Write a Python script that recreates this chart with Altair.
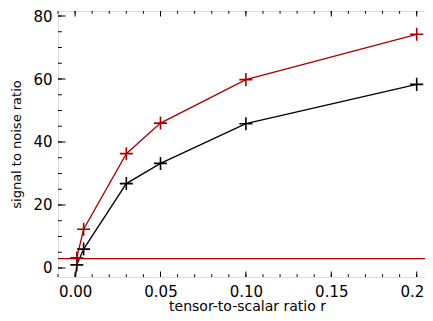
import altair as alt
import pandas as pd

# data
r_vals = [0.001, 0.005, 0.03, 0.05, 0.10, 0.20]
snr_black = [1.0, 6.0, 26.8, 33.2, 45.8, 58.3]
snr_red = [3.2, 12.3, 36.3, 46.0, 59.8, 74.2]
# black curve continues below the visible y range towards r = 0
black_lead_r = [0.0]
black_lead_snr = [-4.0]
threshold = 3.0

x_major = [0.0, 0.05, 0.10, 0.15, 0.20]
x_minor = [round(i * 0.01, 2) for i in range(-1, 22)]
y_major = [0, 20, 40, 60, 80]
y_minor = list(range(0, 81, 5))

W, H = 378, 266
RED = "#a80000"
FONT = "DejaVu Sans"

pts = pd.DataFrame(
    {"r": r_vals * 2, "snr": snr_black + snr_red,
     "series": ["black"] * len(r_vals) + ["red"] * len(r_vals)}
)
line_df = pd.DataFrame(
    {"r": black_lead_r + r_vals + r_vals,
     "snr": black_lead_snr + snr_black + snr_red,
     "series": ["black"] * (len(r_vals) + 1) + ["red"] * len(r_vals)}
)

xs = alt.Scale(domain=[-0.01, 0.2113], nice=False, zero=False)
ys = alt.Scale(domain=[-2.86, 81.59], nice=False, zero=False)
cs = alt.Scale(domain=["black", "red"], range=["black", RED])

xaxis = alt.Axis(title="tensor-to-scalar ratio r", values=x_major, format=".2f",
                 ticks=False, domain=False, grid=False, labelFontSize=15,
                 labelFont=FONT, labelPadding=7, titleFont=FONT, titleFontSize=14,
                 titleFontWeight="normal", titleBaseline="alphabetic", titleY=33,
                 labelColor="black", titleColor="black")
yaxis = alt.Axis(title="signal to noise ratio", values=y_major, format="d",
                 ticks=False, domain=False, grid=False, labelFontSize=15,
                 labelFont=FONT, labelPadding=6, titleFont=FONT, titleFontSize=13,
                 titleFontWeight="normal", titlePadding=9, labelColor="black", titleColor="black")

lines = alt.Chart(line_df).mark_line(strokeWidth=1.3, clip=True).encode(
    x=alt.X("r:Q", scale=xs, axis=xaxis),
    y=alt.Y("snr:Q", scale=ys, axis=yaxis),
    color=alt.Color("series:N", scale=cs, legend=None),
    detail="series:N",
)
points = alt.Chart(pts).mark_point(shape="M-1,0L1,0M0,-1L0,1", filled=False, size=170,
                                   strokeWidth=1.6, opacity=1).encode(
    x=alt.X("r:Q", scale=xs),
    y=alt.Y("snr:Q", scale=ys),
    color=alt.Color("series:N", scale=cs, legend=None),
)
hline = alt.Chart(pd.DataFrame({"t": [threshold]})).mark_rule(color=RED, strokeWidth=1.3).encode(
    y=alt.Y("t:Q", scale=ys)
)

def xticks(vals, L):
    d = alt.Chart(pd.DataFrame({"v": vals}))
    bot = d.mark_rule(color="black", strokeWidth=1).encode(
        x=alt.X("v:Q", scale=xs), y=alt.value(H), y2=alt.value(H - L))
    top = d.mark_rule(color="black", strokeWidth=1).encode(
        x=alt.X("v:Q", scale=xs), y=alt.value(0), y2=alt.value(L))
    return [bot, top]

def yticks(vals, L):
    d = alt.Chart(pd.DataFrame({"v": vals}))
    lft = d.mark_rule(color="black", strokeWidth=1).encode(
        y=alt.Y("v:Q", scale=ys), x=alt.value(0), x2=alt.value(L))
    rgt = d.mark_rule(color="black", strokeWidth=1).encode(
        y=alt.Y("v:Q", scale=ys), x=alt.value(W), x2=alt.value(W - L))
    return [lft, rgt]

layers = ([lines, hline, points] + xticks(x_major, 5.5) + xticks(x_minor, 2.75)
          + yticks(y_major, 7.5) + yticks(y_minor, 3.75))

chart = alt.layer(*layers).properties(
    width=W, height=H,
    autosize=alt.AutoSizeParams(type="none"),
    padding={"left": 50, "top": 3, "right": -11, "bottom": 36},
).configure_view(stroke="black", strokeWidth=1.5, fill="white").configure(background="white")

chart.save("out.html", embed_options={"renderer": "svg", "actions": False})
